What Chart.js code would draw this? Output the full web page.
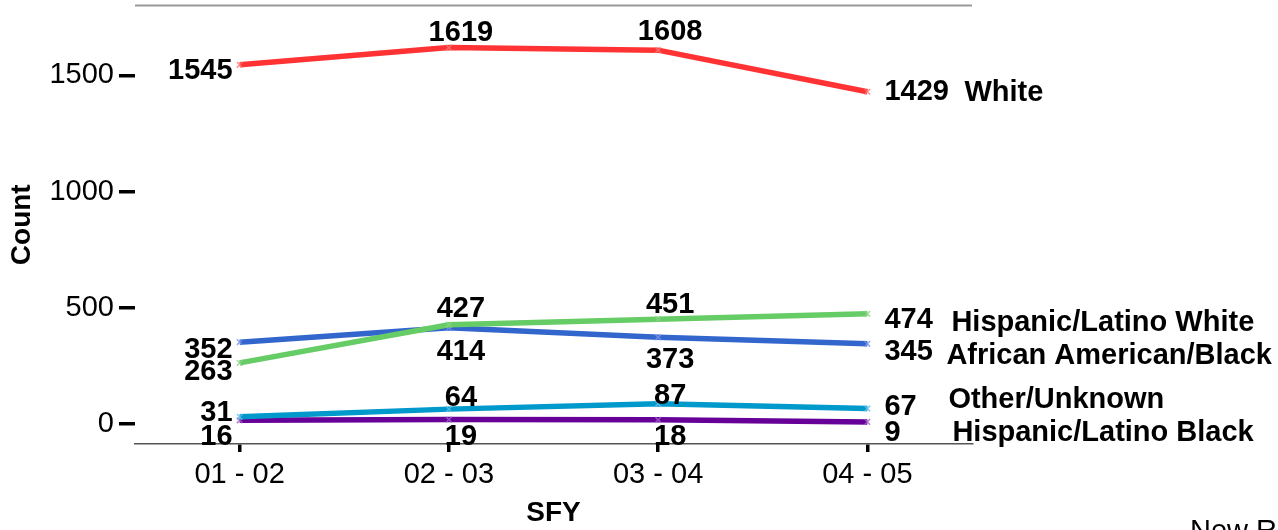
<!DOCTYPE html>
<html>
<head>
<meta charset="utf-8">
<script src="https://cdn.jsdelivr.net/npm/chart.js@4"></script>
<style>
  html, body { margin: 0; padding: 0; background: #fff; }
  #wrap { width: 1278px; height: 530px; position: relative; overflow: hidden; }
</style>
</head>
<body>
<div id="wrap"><canvas id="raceChart"></canvas></div>
<script>
const years = ["01 - 02", "02 - 03", "03 - 04", "04 - 05"];
const yTicks = [0, 500, 1000, 1500];

const white = [1545, 1619, 1608, 1429];
const hispanicWhite = [263, 427, 451, 474];
const africanAmerican = [352, 414, 373, 345];
const otherUnknown = [31, 64, 87, 67];
const hispanicBlack = [16, 19, 18, 9];

const seriesNames = ["White", "Hispanic/Latino White", "African American/Black", "Other/Unknown", "Hispanic/Latino Black"];
const seriesValues = [white, hispanicWhite, africanAmerican, otherUnknown, hispanicBlack];
const colors = ['#ff3333', '#66cc66', '#3366cc', '#0099cc', '#660099'];
const markColors = ['rgba(255,120,120,0.8)', 'rgba(140,210,140,0.8)', 'rgba(120,150,230,0.8)', 'rgba(100,190,230,0.8)', 'rgba(160,100,200,0.8)'];

// where the value labels sit around each line (pixel nudges)
const placement = [
    { left: 6, mid: [-15, -18], right: 0, name: 1, nameDx: 97 },
    { left: 9, mid: [-16, -14], right: 6, name: 9, nameDx: 84 },
    { left: 8, mid: [24, 23], right: 8, name: 12, nameDx: 79 },
    { left: -4, mid: [-11, -8], right: -1, name: -8, nameDx: 81 },
    { left: 17, mid: [17, 17], right: 11, name: 11, nameDx: 85 }
];

const FONT = "'Liberation Sans', Arial, sans-serif";

const labelPlugin = {
    id: 'lineLabels',
    afterDatasetsDraw(chart) {
        const c = chart.ctx;
        c.save();
        c.fillStyle = '#000';
        c.textBaseline = 'middle';
        c.font = "bold 29px " + FONT;
        chart.data.datasets.forEach((ds, d) => {
            const pts = chart.getDatasetMeta(d).data;
            const p = placement[d];
            pts.forEach((pt, i) => {
                const txt = String(ds.data[i]);
                if (i === 0) {
                    c.textAlign = 'right';
                    c.fillText(txt, pt.x - 7, pt.y + p.left);
                } else if (i === pts.length - 1) {
                    c.textAlign = 'left';
                    c.fillText(txt, pt.x + 17, pt.y + p.right);
                    c.fillText(ds.label, pt.x + p.nameDx, pt.y + p.name);
                } else {
                    c.textAlign = 'center';
                    c.fillText(txt, pt.x + 12, pt.y + p.mid[i - 1]);
                }
            });
        });
        c.restore();
    },
    afterDraw(chart) {
        const c = chart.ctx;
        const a = chart.chartArea;
        c.save();
        c.strokeStyle = '#999';
        c.lineWidth = 2;
        c.beginPath();
        c.moveTo(a.left, a.top);
        c.lineTo(a.right, a.top);
        c.stroke();
        c.fillStyle = '#000';
        c.font = "29px " + FONT;
        c.textAlign = 'left';
        c.textBaseline = 'top';
        c.fillText("New Report", chart.width - 88, 517);
        c.restore();
    }
};

new Chart(document.getElementById("raceChart"), {
    type: 'line',
    data: {
        labels: years,
        datasets: seriesNames.map((name, i) => ({
            label: name,
            data: seriesValues[i],
            borderColor: colors[i],
            borderWidth: 5.5,
            tension: 0,
            pointStyle: 'crossRot',
            pointRadius: 4,
            pointBorderWidth: 1.5,
            pointBorderColor: markColors[i],
            pointBackgroundColor: markColors[i]
        }))
    },
    options: {
        responsive: true,
        maintainAspectRatio: false,
        animation: false,
        layout: { padding: { top: 5, right: 306, left: 0, bottom: 0 } },
        plugins: {
            legend: { display: false },
            tooltip: { enabled: false }
        },
        scales: {
            x: {
                offset: true,
                afterFit: (s) => { s.height = 86; s.paddingLeft = 0; s.paddingRight = 0; },
                grid: {
                    drawOnChartArea: false,
                    offset: false,
                    tickLength: 8,
                    lineWidth: 3.5,
                    color: '#000'
                },
                border: { display: true, color: '#555', width: 1.5 },
                ticks: {
                    color: '#000',
                    padding: 6,
                    font: { family: FONT, size: 29 }
                },
                title: {
                    display: true,
                    text: 'SFY',
                    color: '#000',
                    padding: 0,
                    font: { family: FONT, size: 28, weight: 'bold' }
                }
            },
            y: {
                min: -86,
                max: 1800,
                afterFit: (s) => { s.width = 135; s.paddingTop = 0; s.paddingBottom = 0; },
                afterBuildTicks: (s) => { s.ticks = yTicks.map(v => ({ value: v })); },
                grid: {
                    drawOnChartArea: false,
                    tickLength: 16,
                    lineWidth: 3.5,
                    color: '#000'
                },
                border: { display: false },
                ticks: {
                    color: '#000',
                    padding: 5,
                    font: { family: FONT, size: 29 },
                    callback: (v) => String(v)
                },
                title: {
                    display: true,
                    text: 'Count',
                    color: '#000',
                    padding: { top: 5, bottom: 0 },
                    font: { family: FONT, size: 28, weight: 'bold' }
                }
            }
        }
    },
    plugins: [labelPlugin]
});
</script>
</body>
</html>
